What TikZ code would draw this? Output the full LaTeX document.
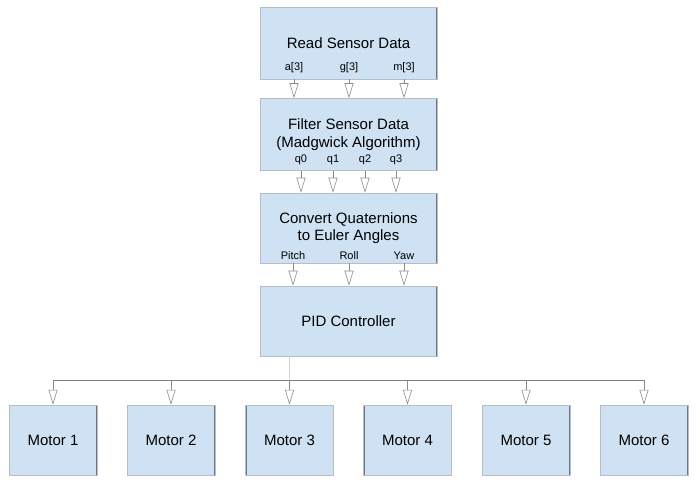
\documentclass[tikz,border=0pt]{standalone}
\usepackage{fontspec}
\setmainfont{Liberation Sans}
\usetikzlibrary{arrows.meta}
\definecolor{boxfill}{HTML}{CFE2F3}
\definecolor{edgecol}{HTML}{6E7780}
\definecolor{topcol}{HTML}{B5BEC6}
\definecolor{arrcol}{HTML}{8C8C8C}
\begin{document}
\begin{tikzpicture}[x=1pt,y=-1pt,
  box/.style={fill=boxfill, draw=topcol, line width=0.5pt, inner sep=0pt, align=center,
    font=\fontsize{15}{17.5}\selectfont,
    path picture={\draw[edgecol, line width=2pt]
      (path picture bounding box.north west) -- (path picture bounding box.south west)
      (path picture bounding box.north east) -- (path picture bounding box.south east);}},
  sig/.style={font=\fontsize{11}{13}\selectfont, inner sep=0pt},
  arr/.style={draw=arrcol, line width=0.6pt, -{Triangle[open, length=15pt, width=9pt]}},
  bus/.style={draw=gray, line width=0.8pt},
  feed/.style={draw=gray!35, line width=0.8pt}]
\useasboundingbox (0,0) rectangle (697,484);

% main chain
\node[box, minimum width=177pt, minimum height=72pt] (read) at (348.5,43) {Read Sensor Data};
\node[box, minimum width=177pt, minimum height=72pt] (filter) at (348.5,134.5) {Filter Sensor Data\\(Madgwick Algorithm)};
\node[box, minimum width=177pt, minimum height=70pt] (conv) at (348.5,228) {Convert Quaternions\\to Euler Angles};
\node[box, minimum width=177pt, minimum height=70pt] (pid) at (348.5,321) {PID Controller};

% signal labels
\node[sig] (a) at (294,68) {a[3]};
\node[sig] (g) at (349,68) {g[3]};
\node[sig] (m) at (404,68) {m[3]};
\node[sig] (q0) at (301,160) {q0};
\node[sig] (q1) at (333,160) {q1};
\node[sig] (q2) at (365,160) {q2};
\node[sig] (q3) at (396,160) {q3};
\node[sig] (pitch) at (293,256) {Pitch};
\node[sig] (roll) at (349,256) {Roll};
\node[sig] (yaw) at (404,256) {Yaw};

\foreach \s in {a,g,m}{\draw[arr] (read.south -| \s) -- (filter.north -| \s);}
\foreach \s in {q0,q1,q2,q3}{\draw[arr] (filter.south -| \s) -- (conv.north -| \s);}
\foreach \s in {pitch,roll,yaw}{\draw[arr] (conv.south -| \s) -- (pid.north -| \s);}

% motors
\node[box, minimum width=88pt, minimum height=70pt] (m1) at (53,440) {Motor 1};
\node[box, minimum width=88pt, minimum height=70pt] (m2) at (171,440) {Motor 2};
\node[box, minimum width=88pt, minimum height=70pt] (m3) at (289.5,440) {Motor 3};
\node[box, minimum width=88pt, minimum height=70pt] (m4) at (407.5,440) {Motor 4};
\node[box, minimum width=88pt, minimum height=70pt] (m5) at (526,440) {Motor 5};
\node[box, minimum width=88pt, minimum height=70pt] (m6) at (644,440) {Motor 6};

\coordinate (busy) at (0,380);
\draw[feed] (pid.south -| m3.north) -- (busy -| m3.north);
\draw[bus] (busy -| m1.north) -- (busy -| m6.north);
\foreach \k in {m1,m2,m3,m4,m5,m6}{\draw[arr] (busy -| \k.north) -- (\k.north);}
\end{tikzpicture}
\end{document}
